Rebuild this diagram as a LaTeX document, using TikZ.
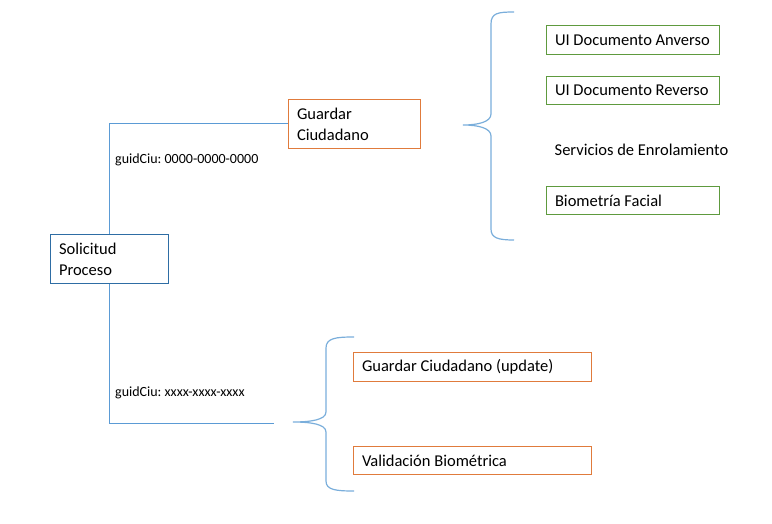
\documentclass[tikz,border=0pt]{standalone}
\usepackage{fontspec}
\setmainfont{Carlito}
\frenchspacing
\begin{document}
\begin{tikzpicture}[x=1pt,y=-1pt,
  box/.style={draw, line width=1pt, anchor=north west, inner xsep=8.5pt, inner ysep=0pt,
    align=flush left, font=\fontsize{16.5}{21}\selectfont},
  bluebox/.style={box, draw=boxblue},
  orangebox/.style={box, draw=boxorange},
  greenbox/.style={box, draw=boxgreen},
  link/.style={draw=lineblue, line width=1pt},
  brace/.style={draw=braceblue, line width=1.2pt},
  lbl/.style={anchor=west, inner sep=0pt, font=\fontsize{14}{16}\selectfont}]
\definecolor{boxblue}{HTML}{2E6DA4}
\definecolor{lineblue}{HTML}{5B9BD5}
\definecolor{braceblue}{HTML}{7AAEDB}
\definecolor{boxorange}{HTML}{E07B3C}
\definecolor{boxgreen}{HTML}{5E9A3E}
\useasboundingbox (0,0) rectangle (772,524);
% boxes
\node[bluebox, text width=101, minimum height=49] (sol) at (50,234) {Solicitud\\Proceso};
\node[orangebox, text width=115, minimum height=49] (gc) at (288,99) {Guardar\\Ciudadano};
\node[greenbox, text width=156, minimum height=29] (ua) at (546,25) {UI Documento Anverso};
\node[greenbox, text width=156, minimum height=28] (ur) at (546,76) {UI Documento Reverso};
\node[anchor=west, inner xsep=8.5pt, inner ysep=0pt, font=\fontsize{16.5}{21}\selectfont] (se) at (546,150) {Servicios de Enrolamiento};
\node[greenbox, text width=156, minimum height=28] (bf) at (546,186) {Biometría Facial};
\node[orangebox, text width=221, minimum height=29] (gu) at (353,352) {Guardar Ciudadano (update)};
\node[orangebox, text width=221, minimum height=28] (vb) at (353,446) {Validación Biométrica};
% connectors
\coordinate (e2) at (274,423);
\draw[link] (sol.north) |- (gc.west);
\draw[link] (sol.south) |- (e2);
% labels
\node[lbl] (l1) at (115,160) {guidCiu: 0000-0000-0000};
\node[lbl] (l2) at (115,393) {guidCiu: xxxx-xxxx-xxxx};
% braces
\draw[brace] (514,12) .. controls (498,12) and (491,13) .. (491,24) -- (491,114)
  .. controls (491,122) and (478,125) .. (463,125)
  .. controls (478,125) and (491,128) .. (491,136) -- (491,229)
  .. controls (491,238) and (498,240) .. (514,240);
\draw[brace] (354,337) .. controls (336,337) and (326,338) .. (326,348) -- (326,412)
  .. controls (326,420) and (310,422) .. (293,422)
  .. controls (310,422) and (326,424) .. (326,432) -- (326,481)
  .. controls (326,490) and (336,491) .. (354,491);
\end{tikzpicture}
\end{document}
